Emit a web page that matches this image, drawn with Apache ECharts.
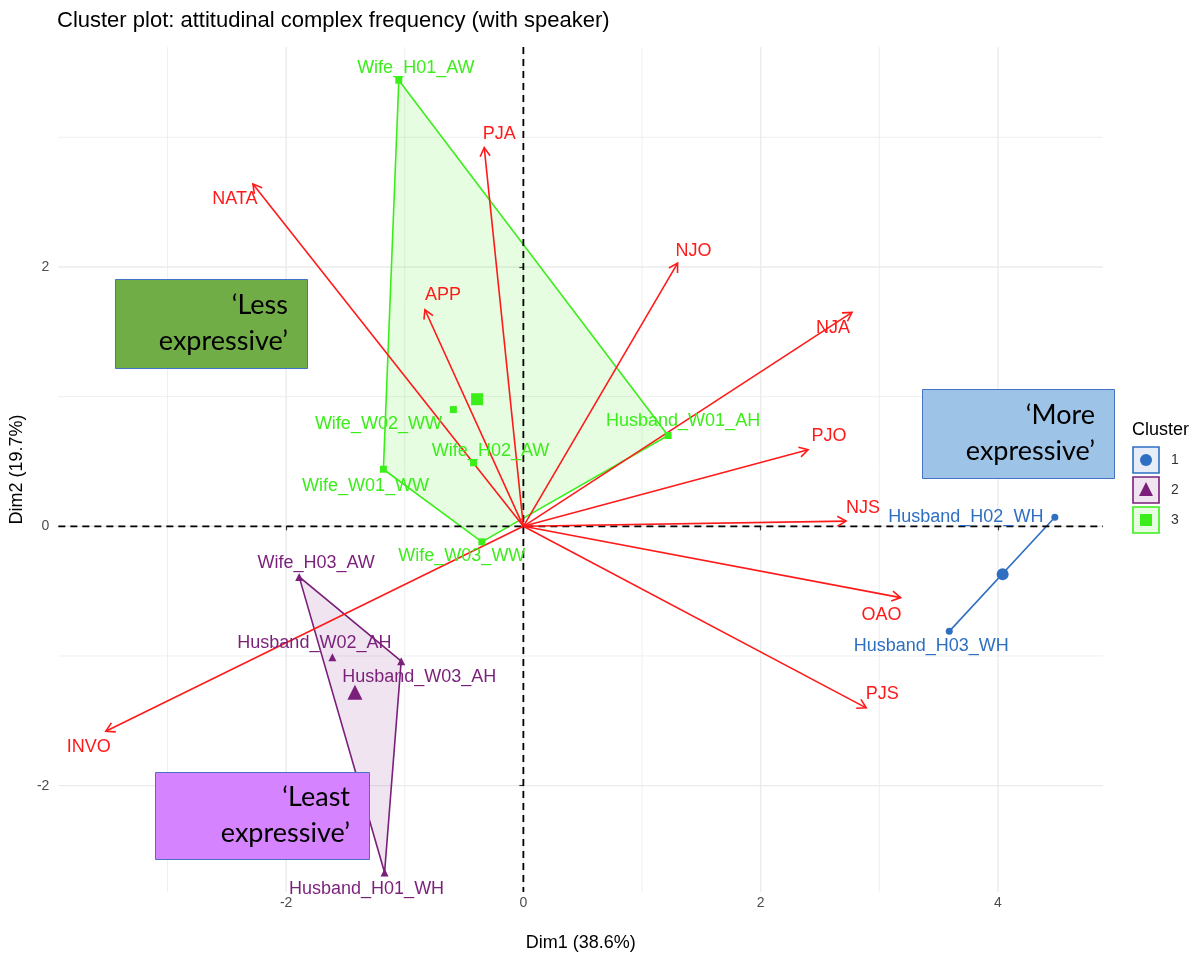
<!DOCTYPE html>
<html>
<head>
<meta charset="utf-8">
<script src="https://cdn.jsdelivr.net/npm/echarts@6/dist/echarts.min.js"></script>
<style>
  html, body { margin: 0; padding: 0; background: #fff; }
  #chart { width: 1197px; height: 958px; }
</style>
</head>
<body>
<div id="chart"></div>
<script>
// individuals (speakers)
const indNames = ['Wife_H01_AW', 'Wife_W02_WW', 'Wife_H02_AW', 'Wife_W01_WW', 'Wife_W03_WW', 'Husband_W01_AH',
  'Wife_H03_AW', 'Husband_W02_AH', 'Husband_W03_AH', 'Husband_H01_WH',
  'Husband_H02_WH', 'Husband_H03_WH']
const indX = [-1.05, -0.59, -0.42, -1.18, -0.35, 1.22, -1.89, -1.61, -1.03, -1.17, 4.48, 3.59]
const indY = [3.44, 0.90, 0.49, 0.44, -0.12, 0.70, -0.39, -1.01, -1.04, -2.67, 0.07, -0.81]
const indCluster = [3, 3, 3, 3, 3, 3, 2, 2, 2, 2, 1, 1]

// cluster centres
const clusterIds = [1, 2, 3]
const centerX = [4.04, -1.42, -0.39]
const centerY = [-0.37, -1.28, 0.98]

// variable arrows
const varNames = ['PJA', 'NATA', 'NJO', 'APP', 'NJA', 'PJO', 'NJS', 'OAO', 'PJS', 'INVO']
const varX = [-0.33, -2.28, 1.30, -0.83, 2.77, 2.40, 2.72, 3.18, 2.89, -3.52]
const varY = [2.92, 2.64, 2.03, 1.67, 1.65, 0.59, 0.04, -0.55, -1.40, -1.58]

// axis ticks and grid
const xTicks = [-2, 0, 2, 4]
const yTicks = [-2, 0, 2]
const xGrid = [-3, -2, -1, 0, 1, 2, 3, 4]
const yGrid = [-2, -1, 0, 1, 2, 3]

// label offsets in pixels (layout only)
const indLabelOffset = [[17, -12], [-75, 14], [17, -12], [-18, 17], [-20, 14], [15, -14],
  [17, -14], [-18, -14], [18, 16], [-18, 16], [-89, 0], [-18, 15]]
const varLabelOffset = [[15, -14], [-18, 15], [16, -12], [18, -15], [-19, 16], [21, -14],
  [17, -13], [-19, 17], [16, -14], [-17, 16]]

const clusterColor = { 1: '#2E6FC2', 2: '#7A1F7A', 3: '#3BEE1A' }
const clusterFill = { 1: 'rgba(46,111,194,0.12)', 2: 'rgba(122,31,122,0.12)', 3: 'rgba(59,238,26,0.13)' }
const clusterSymbol = { 1: 'circle', 2: 'triangle', 3: 'rect' }
const RED = '#FF1A1A'
const FONT = 'Liberation Sans, Arial, sans-serif'

function hull(pts) {
  const p = pts.slice().sort((a, b) => a[0] - b[0] || a[1] - b[1])
  if (p.length < 3) return p
  const cross = (o, a, b) => (a[0] - o[0]) * (b[1] - o[1]) - (a[1] - o[1]) * (b[0] - o[0])
  const lower = []
  for (const q of p) {
    while (lower.length >= 2 && cross(lower[lower.length - 2], lower[lower.length - 1], q) <= 0) lower.pop()
    lower.push(q)
  }
  const upper = []
  for (let i = p.length - 1; i >= 0; i--) {
    const q = p[i]
    while (upper.length >= 2 && cross(upper[upper.length - 2], upper[upper.length - 1], q) <= 0) upper.pop()
    upper.push(q)
  }
  upper.pop(); lower.pop()
  return lower.concat(upper)
}

const chart = echarts.init(document.getElementById('chart'))

const hulls = clusterIds.map((c) => hull(indX.map((x, i) => [x, indY[i], indCluster[i]]).filter((p) => p[2] === c)))

const series = []

// grid lines
series.push({
  type: 'custom',
  silent: true,
  z: 0,
  data: xGrid.map((v) => [v, 0, 0]).concat(yGrid.map((v) => [0, v, 1])),
  renderItem(params, api) {
    const cs = params.coordSys
    const isY = api.value(2) === 1
    const v = isY ? api.value(1) : api.value(0)
    const major = v % 2 === 0
    const style = { stroke: '#EBEBEB', lineWidth: major ? 1.4 : 0.8 }
    if (!isY) {
      const x = api.coord([v, 0])[0]
      return { type: 'line', shape: { x1: x, y1: cs.y, x2: x, y2: cs.y + cs.height }, style }
    }
    const y = api.coord([0, v])[1]
    return { type: 'line', shape: { x1: cs.x, y1: y, x2: cs.x + cs.width, y2: y }, style }
  },
})

// cluster hulls
series.push({
  type: 'custom',
  silent: true,
  z: 1,
  data: clusterIds.map((c) => [c]),
  renderItem(params, api) {
    const c = api.value(0)
    const pts = hulls[params.dataIndex].map((p) => api.coord([p[0], p[1]]))
    return {
      type: 'polygon',
      shape: { points: pts },
      style: { fill: clusterFill[c], stroke: clusterColor[c], lineWidth: 1.6 },
    }
  },
})

// dashed zero lines
series.push({
  type: 'custom',
  silent: true,
  z: 2,
  data: [[0, 0, 0], [0, 0, 1]],
  renderItem(params, api) {
    const cs = params.coordSys
    const o = api.coord([0, 0])
    const style = { stroke: '#000', lineWidth: 1.8, lineDash: [7, 5] }
    if (api.value(2) === 0) {
      return { type: 'line', shape: { x1: o[0], y1: cs.y, x2: o[0], y2: cs.y + cs.height }, style }
    }
    return { type: 'line', shape: { x1: cs.x, y1: o[1], x2: cs.x + cs.width, y2: o[1] }, style }
  },
})

// variable arrows
series.push({
  type: 'custom',
  silent: true,
  z: 3,
  data: varX.map((x, i) => [x, varY[i]]),
  renderItem(params, api) {
    const i = params.dataIndex
    const o = api.coord([0, 0])
    const p = api.coord([api.value(0), api.value(1)])
    const dx = p[0] - o[0]
    const dy = p[1] - o[1]
    const len = Math.hypot(dx, dy)
    const ux = dx / len
    const uy = dy / len
    const L = 10
    const ca = Math.cos(Math.PI / 6)
    const sa = Math.sin(Math.PI / 6)
    const h1 = [p[0] - L * (ux * ca - uy * sa), p[1] - L * (uy * ca + ux * sa)]
    const h2 = [p[0] - L * (ux * ca + uy * sa), p[1] - L * (uy * ca - ux * sa)]
    const off = varLabelOffset[i]
    return {
      type: 'group',
      children: [
        { type: 'line', shape: { x1: o[0], y1: o[1], x2: p[0], y2: p[1] }, style: { stroke: RED, lineWidth: 1.6 } },
        { type: 'polyline', shape: { points: [h1, p, h2] }, style: { stroke: RED, lineWidth: 1.6, fill: null } },
        {
          type: 'text', x: p[0] + off[0], y: p[1] + off[1],
          style: { text: varNames[i], fill: RED, fontSize: 18, fontFamily: FONT, align: 'center', verticalAlign: 'middle' },
        },
      ],
    }
  },
})

// individuals per cluster
clusterIds.forEach((c) => {
  const data = []
  indNames.forEach((name, i) => {
    if (indCluster[i] !== c) return
    data.push({
      name,
      value: [indX[i], indY[i]],
      label: { offset: indLabelOffset[i] },
    })
  })
  series.push({
    type: 'scatter',
    name: String(c),
    z: 4,
    symbol: clusterSymbol[c],
    symbolSize: c === 2 ? 8 : 7,
    itemStyle: { color: clusterColor[c], opacity: 1 },
    label: {
      show: true,
      position: 'inside',
      formatter: '{b}',
      color: clusterColor[c],
      fontSize: 18,
      fontFamily: FONT,
    },
    data,
  })
})

// cluster centres
series.push({
  type: 'scatter',
  z: 4,
  data: clusterIds.map((c, k) => ({
    value: [centerX[k], centerY[k]],
    symbol: clusterSymbol[c],
    symbolSize: c === 2 ? 15 : 12,
    itemStyle: { color: clusterColor[c], opacity: 1 },
  })),
})

function noteBox(x, y, w, h, fill, lines, textRight) {
  return [
    { type: 'rect', left: x, top: y, z: 50, shape: { width: w, height: h }, style: { fill, stroke: '#4472C4', lineWidth: 1 } },
    {
      type: 'text', z: 51, x: textRight, y: y + h / 2,
      style: {
        text: lines.join('\n'), fill: '#000', fontSize: 27, fontFamily: 'Lato, sans-serif',
        align: 'right', verticalAlign: 'middle', lineHeight: 36,
      },
    },
  ]
}

function legendKey(c, top) {
  const cx = 1146
  const cy = top + 13
  let shape
  if (c === 1) shape = { type: 'circle', shape: { cx, cy, r: 6 }, style: { fill: clusterColor[c] } }
  if (c === 2) shape = { type: 'polygon', shape: { points: [[cx, cy - 8], [cx + 7, cy + 6], [cx - 7, cy + 6]] }, style: { fill: clusterColor[c] } }
  if (c === 3) shape = { type: 'rect', shape: { x: cx - 6, y: cy - 6, width: 12, height: 12 }, style: { fill: clusterColor[c] } }
  return [
    { type: 'rect', z: 50, shape: { x: 1133, y: top, width: 26, height: 26 }, style: { fill: clusterFill[c], stroke: clusterColor[c], lineWidth: 1.6 } },
    Object.assign(shape, { z: 51 }),
    { type: 'text', z: 51, x: 1171, y: cy, style: { text: String(c), fill: '#333', fontSize: 14, fontFamily: FONT, align: 'left', verticalAlign: 'middle' } },
  ]
}

const graphic = [].concat(
  noteBox(115, 279, 192, 89, '#70AD47', ['\u2018Less', 'expressive\u2019'], 288),
  noteBox(922, 389, 192, 89, '#9DC3E6', ['\u2018More', 'expressive\u2019'], 1095),
  noteBox(155, 772, 214, 87, '#D683FF', ['\u2018Least', 'expressive\u2019'], 350),
  [{ type: 'text', z: 51, x: 1132, y: 430, style: { text: 'Cluster', fill: '#000', fontSize: 18, fontFamily: FONT, verticalAlign: 'middle' } }],
  legendKey(1, 447),
  legendKey(2, 477),
  legendKey(3, 507),
)

const option = {
  animation: false,
  backgroundColor: '#fff',
  title: {
    text: 'Cluster plot: attitudinal complex frequency (with speaker)',
    left: 57,
    top: 10,
    padding: 0,
    textStyle: { fontSize: 22, fontWeight: 'normal', color: '#000', fontFamily: FONT },
  },
  grid: { left: 56, right: 94, top: 47, bottom: 66 },
  xAxis: {
    type: 'value',
    min: -3.92,
    max: 4.886,
    name: 'Dim1 (38.6%)',
    nameLocation: 'middle',
    nameGap: 42,
    nameTextStyle: { fontSize: 18, color: '#000', fontFamily: FONT },
    axisLine: { show: false },
    splitLine: { show: false },
    axisTick: { show: true, customValues: xTicks, length: 4, lineStyle: { color: '#333', width: 1.2 } },
    axisLabel: { customValues: xTicks, color: '#4D4D4D', fontSize: 14, fontFamily: FONT, margin: 4 },
  },
  yAxis: {
    type: 'value',
    min: -2.82,
    max: 3.696,
    name: 'Dim2 (19.7%)',
    nameLocation: 'middle',
    nameRotate: 90,
    nameGap: 28,
    nameTextStyle: { fontSize: 18, color: '#000', fontFamily: FONT },
    axisLine: { show: false },
    splitLine: { show: false },
    axisTick: { show: true, customValues: yTicks, length: 4, lineStyle: { color: '#333', width: 1.2 } },
    axisLabel: { customValues: yTicks, color: '#4D4D4D', fontSize: 14, fontFamily: FONT, margin: 9 },
  },
  series,
  graphic,
}

chart.setOption(option)
</script>
</body>
</html>
